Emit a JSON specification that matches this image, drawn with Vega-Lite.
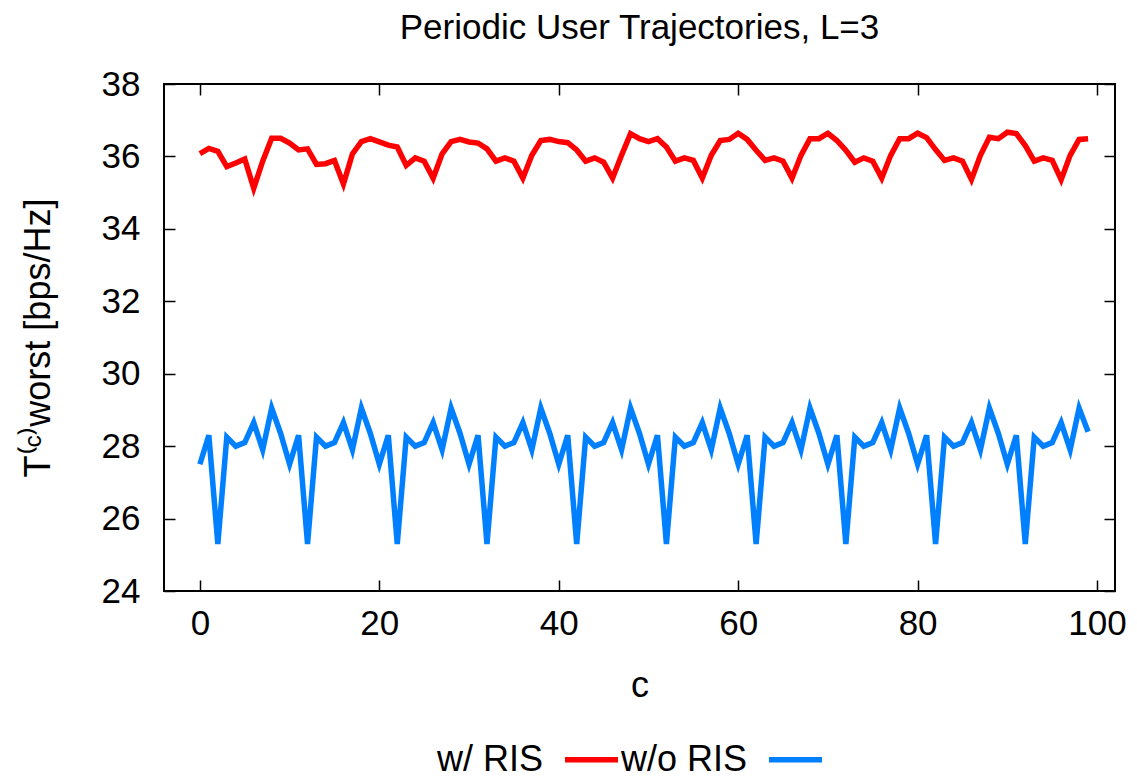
{
  "$schema": "https://vega.github.io/schema/vega-lite/v6.json",
  "width": 951,
  "height": 507,
  "autosize": {"type": "none"},
  "padding": {"left": 164, "top": 84, "right": 22, "bottom": 187},
  "background": "white",
  "config": {
    "font": "Liberation Sans",
    "view": {"stroke": "black", "strokeWidth": 2},
    "axis": {"grid": false, "domain": false, "tickColor": "black", "tickWidth": 1.5, "tickSize": -11, "labelColor": "black", "labelFont": "Liberation Sans", "labelFontSize": 35, "titleFont": "Liberation Sans", "titleColor": "black", "titleFontWeight": "normal", "titleFontSize": 36}
  },
  "title": {"text": "Periodic User Trajectories, L=3", "fontSize": 35, "fontWeight": "normal", "font": "Liberation Sans", "color": "black", "offset": 21, "anchor": "middle"},
  "data": {"values": [
    {"c":0,"v":36.08,"s":"w/ RIS"},{"c":1,"v":36.22,"s":"w/ RIS"},{"c":2,"v":36.14,"s":"w/ RIS"},{"c":3,"v":35.72,"s":"w/ RIS"},{"c":4,"v":35.82,"s":"w/ RIS"},{"c":5,"v":35.93,"s":"w/ RIS"},{"c":6,"v":35.12,"s":"w/ RIS"},{"c":7,"v":35.87,"s":"w/ RIS"},{"c":8,"v":36.50,"s":"w/ RIS"},{"c":9,"v":36.50,"s":"w/ RIS"},
    {"c":10,"v":36.37,"s":"w/ RIS"},{"c":11,"v":36.18,"s":"w/ RIS"},{"c":12,"v":36.21,"s":"w/ RIS"},{"c":13,"v":35.78,"s":"w/ RIS"},{"c":14,"v":35.80,"s":"w/ RIS"},{"c":15,"v":35.89,"s":"w/ RIS"},{"c":16,"v":35.24,"s":"w/ RIS"},{"c":17,"v":36.07,"s":"w/ RIS"},{"c":18,"v":36.41,"s":"w/ RIS"},{"c":19,"v":36.49,"s":"w/ RIS"},
    {"c":20,"v":36.40,"s":"w/ RIS"},{"c":21,"v":36.31,"s":"w/ RIS"},{"c":22,"v":36.26,"s":"w/ RIS"},{"c":23,"v":35.75,"s":"w/ RIS"},{"c":24,"v":35.96,"s":"w/ RIS"},{"c":25,"v":35.87,"s":"w/ RIS"},{"c":26,"v":35.40,"s":"w/ RIS"},{"c":27,"v":36.07,"s":"w/ RIS"},{"c":28,"v":36.41,"s":"w/ RIS"},{"c":29,"v":36.47,"s":"w/ RIS"},
    {"c":30,"v":36.40,"s":"w/ RIS"},{"c":31,"v":36.37,"s":"w/ RIS"},{"c":32,"v":36.21,"s":"w/ RIS"},{"c":33,"v":35.87,"s":"w/ RIS"},{"c":34,"v":35.96,"s":"w/ RIS"},{"c":35,"v":35.87,"s":"w/ RIS"},{"c":36,"v":35.40,"s":"w/ RIS"},{"c":37,"v":36.03,"s":"w/ RIS"},{"c":38,"v":36.44,"s":"w/ RIS"},{"c":39,"v":36.47,"s":"w/ RIS"},
    {"c":40,"v":36.41,"s":"w/ RIS"},{"c":41,"v":36.38,"s":"w/ RIS"},{"c":42,"v":36.18,"s":"w/ RIS"},{"c":43,"v":35.87,"s":"w/ RIS"},{"c":44,"v":35.96,"s":"w/ RIS"},{"c":45,"v":35.84,"s":"w/ RIS"},{"c":46,"v":35.40,"s":"w/ RIS"},{"c":47,"v":36.03,"s":"w/ RIS"},{"c":48,"v":36.63,"s":"w/ RIS"},{"c":49,"v":36.49,"s":"w/ RIS"},
    {"c":50,"v":36.41,"s":"w/ RIS"},{"c":51,"v":36.49,"s":"w/ RIS"},{"c":52,"v":36.26,"s":"w/ RIS"},{"c":53,"v":35.87,"s":"w/ RIS"},{"c":54,"v":35.96,"s":"w/ RIS"},{"c":55,"v":35.89,"s":"w/ RIS"},{"c":56,"v":35.40,"s":"w/ RIS"},{"c":57,"v":36.03,"s":"w/ RIS"},{"c":58,"v":36.44,"s":"w/ RIS"},{"c":59,"v":36.47,"s":"w/ RIS"},
    {"c":60,"v":36.64,"s":"w/ RIS"},{"c":61,"v":36.47,"s":"w/ RIS"},{"c":62,"v":36.17,"s":"w/ RIS"},{"c":63,"v":35.89,"s":"w/ RIS"},{"c":64,"v":35.96,"s":"w/ RIS"},{"c":65,"v":35.87,"s":"w/ RIS"},{"c":66,"v":35.40,"s":"w/ RIS"},{"c":67,"v":36.03,"s":"w/ RIS"},{"c":68,"v":36.49,"s":"w/ RIS"},{"c":69,"v":36.49,"s":"w/ RIS"},
    {"c":70,"v":36.64,"s":"w/ RIS"},{"c":71,"v":36.44,"s":"w/ RIS"},{"c":72,"v":36.17,"s":"w/ RIS"},{"c":73,"v":35.84,"s":"w/ RIS"},{"c":74,"v":35.96,"s":"w/ RIS"},{"c":75,"v":35.87,"s":"w/ RIS"},{"c":76,"v":35.40,"s":"w/ RIS"},{"c":77,"v":36.03,"s":"w/ RIS"},{"c":78,"v":36.49,"s":"w/ RIS"},{"c":79,"v":36.49,"s":"w/ RIS"},
    {"c":80,"v":36.64,"s":"w/ RIS"},{"c":81,"v":36.52,"s":"w/ RIS"},{"c":82,"v":36.19,"s":"w/ RIS"},{"c":83,"v":35.89,"s":"w/ RIS"},{"c":84,"v":35.96,"s":"w/ RIS"},{"c":85,"v":35.87,"s":"w/ RIS"},{"c":86,"v":35.36,"s":"w/ RIS"},{"c":87,"v":36.03,"s":"w/ RIS"},{"c":88,"v":36.53,"s":"w/ RIS"},{"c":89,"v":36.49,"s":"w/ RIS"},
    {"c":90,"v":36.67,"s":"w/ RIS"},{"c":91,"v":36.63,"s":"w/ RIS"},{"c":92,"v":36.30,"s":"w/ RIS"},{"c":93,"v":35.87,"s":"w/ RIS"},{"c":94,"v":35.96,"s":"w/ RIS"},{"c":95,"v":35.89,"s":"w/ RIS"},{"c":96,"v":35.36,"s":"w/ RIS"},{"c":97,"v":36.03,"s":"w/ RIS"},{"c":98,"v":36.47,"s":"w/ RIS"},{"c":99,"v":36.49,"s":"w/ RIS"},
    {"c":0,"v":27.5,"s":"w/o RIS"},{"c":1,"v":28.3,"s":"w/o RIS"},{"c":2,"v":25.3,"s":"w/o RIS"},{"c":3,"v":28.25,"s":"w/o RIS"},{"c":4,"v":28.0,"s":"w/o RIS"},{"c":5,"v":28.1,"s":"w/o RIS"},{"c":6,"v":28.65,"s":"w/o RIS"},{"c":7,"v":27.9,"s":"w/o RIS"},{"c":8,"v":29.05,"s":"w/o RIS"},{"c":9,"v":28.35,"s":"w/o RIS"},
    {"c":10,"v":27.5,"s":"w/o RIS"},{"c":11,"v":28.3,"s":"w/o RIS"},{"c":12,"v":25.3,"s":"w/o RIS"},{"c":13,"v":28.25,"s":"w/o RIS"},{"c":14,"v":28.0,"s":"w/o RIS"},{"c":15,"v":28.1,"s":"w/o RIS"},{"c":16,"v":28.65,"s":"w/o RIS"},{"c":17,"v":27.9,"s":"w/o RIS"},{"c":18,"v":29.05,"s":"w/o RIS"},{"c":19,"v":28.35,"s":"w/o RIS"},
    {"c":20,"v":27.5,"s":"w/o RIS"},{"c":21,"v":28.3,"s":"w/o RIS"},{"c":22,"v":25.3,"s":"w/o RIS"},{"c":23,"v":28.25,"s":"w/o RIS"},{"c":24,"v":28.0,"s":"w/o RIS"},{"c":25,"v":28.1,"s":"w/o RIS"},{"c":26,"v":28.65,"s":"w/o RIS"},{"c":27,"v":27.9,"s":"w/o RIS"},{"c":28,"v":29.05,"s":"w/o RIS"},{"c":29,"v":28.35,"s":"w/o RIS"},
    {"c":30,"v":27.5,"s":"w/o RIS"},{"c":31,"v":28.3,"s":"w/o RIS"},{"c":32,"v":25.3,"s":"w/o RIS"},{"c":33,"v":28.25,"s":"w/o RIS"},{"c":34,"v":28.0,"s":"w/o RIS"},{"c":35,"v":28.1,"s":"w/o RIS"},{"c":36,"v":28.65,"s":"w/o RIS"},{"c":37,"v":27.9,"s":"w/o RIS"},{"c":38,"v":29.05,"s":"w/o RIS"},{"c":39,"v":28.35,"s":"w/o RIS"},
    {"c":40,"v":27.5,"s":"w/o RIS"},{"c":41,"v":28.3,"s":"w/o RIS"},{"c":42,"v":25.3,"s":"w/o RIS"},{"c":43,"v":28.25,"s":"w/o RIS"},{"c":44,"v":28.0,"s":"w/o RIS"},{"c":45,"v":28.1,"s":"w/o RIS"},{"c":46,"v":28.65,"s":"w/o RIS"},{"c":47,"v":27.9,"s":"w/o RIS"},{"c":48,"v":29.05,"s":"w/o RIS"},{"c":49,"v":28.35,"s":"w/o RIS"},
    {"c":50,"v":27.5,"s":"w/o RIS"},{"c":51,"v":28.3,"s":"w/o RIS"},{"c":52,"v":25.3,"s":"w/o RIS"},{"c":53,"v":28.25,"s":"w/o RIS"},{"c":54,"v":28.0,"s":"w/o RIS"},{"c":55,"v":28.1,"s":"w/o RIS"},{"c":56,"v":28.65,"s":"w/o RIS"},{"c":57,"v":27.9,"s":"w/o RIS"},{"c":58,"v":29.05,"s":"w/o RIS"},{"c":59,"v":28.35,"s":"w/o RIS"},
    {"c":60,"v":27.5,"s":"w/o RIS"},{"c":61,"v":28.3,"s":"w/o RIS"},{"c":62,"v":25.3,"s":"w/o RIS"},{"c":63,"v":28.25,"s":"w/o RIS"},{"c":64,"v":28.0,"s":"w/o RIS"},{"c":65,"v":28.1,"s":"w/o RIS"},{"c":66,"v":28.65,"s":"w/o RIS"},{"c":67,"v":27.9,"s":"w/o RIS"},{"c":68,"v":29.05,"s":"w/o RIS"},{"c":69,"v":28.35,"s":"w/o RIS"},
    {"c":70,"v":27.5,"s":"w/o RIS"},{"c":71,"v":28.3,"s":"w/o RIS"},{"c":72,"v":25.3,"s":"w/o RIS"},{"c":73,"v":28.25,"s":"w/o RIS"},{"c":74,"v":28.0,"s":"w/o RIS"},{"c":75,"v":28.1,"s":"w/o RIS"},{"c":76,"v":28.65,"s":"w/o RIS"},{"c":77,"v":27.9,"s":"w/o RIS"},{"c":78,"v":29.05,"s":"w/o RIS"},{"c":79,"v":28.35,"s":"w/o RIS"},
    {"c":80,"v":27.5,"s":"w/o RIS"},{"c":81,"v":28.3,"s":"w/o RIS"},{"c":82,"v":25.3,"s":"w/o RIS"},{"c":83,"v":28.25,"s":"w/o RIS"},{"c":84,"v":28.0,"s":"w/o RIS"},{"c":85,"v":28.1,"s":"w/o RIS"},{"c":86,"v":28.65,"s":"w/o RIS"},{"c":87,"v":27.9,"s":"w/o RIS"},{"c":88,"v":29.05,"s":"w/o RIS"},{"c":89,"v":28.35,"s":"w/o RIS"},
    {"c":90,"v":27.5,"s":"w/o RIS"},{"c":91,"v":28.3,"s":"w/o RIS"},{"c":92,"v":25.3,"s":"w/o RIS"},{"c":93,"v":28.25,"s":"w/o RIS"},{"c":94,"v":28.0,"s":"w/o RIS"},{"c":95,"v":28.1,"s":"w/o RIS"},{"c":96,"v":28.65,"s":"w/o RIS"},{"c":97,"v":27.9,"s":"w/o RIS"},{"c":98,"v":29.05,"s":"w/o RIS"},{"c":99,"v":28.4,"s":"w/o RIS"}
  ]},
  "layer": [
    {
      "mark": {"type": "line", "strokeWidth": 5.5, "strokeJoin": "miter", "strokeCap": "butt", "clip": true},
      "encoding": {
        "x": {"field": "c", "type": "quantitative", "scale": {"domain": [-4, 102], "nice": false, "zero": false},
              "axis": {"values": [0, 20, 40, 60, 80, 100], "title": "c", "labelPadding": 26, "titlePadding": 27, "labelFlush": false}},
        "y": {"field": "v", "type": "quantitative", "scale": {"domain": [24, 38], "nice": false, "zero": false},
              "axis": {"values": [24, 26, 28, 30, 32, 34, 36, 38], "title": "T⁽ᶜ⁾worst [bps/Hz]", "labelPadding": 35, "titlePadding": 44, "labelFlush": false}},
        "color": {"field": "s", "type": "nominal", "scale": {"domain": ["w/ RIS", "w/o RIS"], "range": ["#ff0000", "#0080ff"]},
                  "legend": {"title": null, "orient": "none", "legendX": 398, "legendY": 646, "direction": "horizontal", "padding": 0,
                             "symbolType": "stroke", "symbolStrokeWidth": 5.5, "symbolSize": 2809, "labelFontSize": 36, "labelFont": "Liberation Sans", "labelColor": "black",
                             "labelAlign": "right", "labelOffset": -78, "columnPadding": -9, "symbolOffset": 0}}
      }
    },
    {
      "mark": {"type": "line", "opacity": 0},
      "encoding": {
        "x": {"field": "c", "type": "quantitative", "axis": {"orient": "top", "values": [0, 20, 40, 60, 80, 100], "labels": false, "title": null}},
        "y": {"field": "v", "type": "quantitative", "axis": {"orient": "right", "values": [24, 26, 28, 30, 32, 34, 36, 38], "labels": false, "title": null}}
      }
    }
  ],
  "resolve": {"axis": {"x": "independent", "y": "independent"}}
}
